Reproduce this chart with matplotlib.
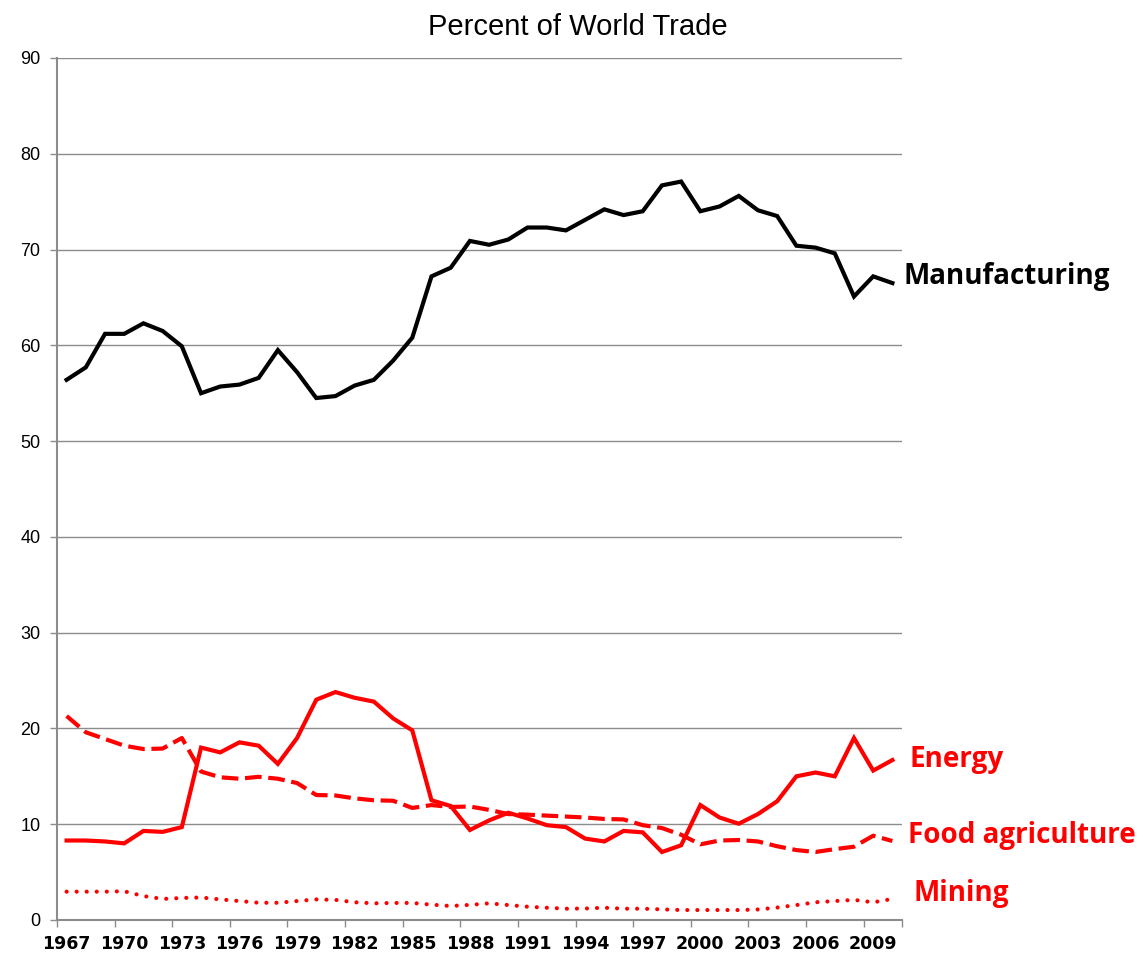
import matplotlib
matplotlib.use("Agg")
import matplotlib.pyplot as plt
import numpy as np

years = list(range(1967, 2011))

manufacturing = [56.4, 57.7, 61.2, 61.2, 62.3, 61.5, 59.9, 55.0, 55.7, 55.9,
                 56.6, 59.5, 57.2, 54.5, 54.7, 55.8, 56.4, 58.4, 60.8, 67.2,
                 68.1, 70.9, 70.5, 71.05, 72.3, 72.3, 72.0, 73.1, 74.2, 73.6,
                 74.0, 76.7, 77.1, 74.0, 74.5, 75.6, 74.1, 73.5, 70.4, 70.2,
                 69.6, 65.1, 67.2, 66.5]

energy = [8.3, 8.3, 8.2, 8.0, 9.3, 9.2, 9.7, 18.0, 17.5, 18.55,
          18.2, 16.3, 19.0, 23.0, 23.8, 23.2, 22.8, 21.05, 19.8, 12.5,
          11.9, 9.4, 10.4, 11.2, 10.6, 9.9, 9.7, 8.5, 8.2, 9.3,
          9.15, 7.1, 7.8, 12.0, 10.7, 10.05, 11.06, 12.4, 15.0, 15.4,
          15.0, 19.0, 15.6, 16.7]

food_agriculture = [21.3, 19.6, 18.9, 18.2, 17.85, 17.9, 19.0, 15.5, 14.9, 14.75,
                    14.95, 14.75, 14.3, 13.05, 13.0, 12.7, 12.5, 12.45, 11.7, 12.0,
                    11.8, 11.85, 11.5, 11.06, 11.0, 10.9, 10.8, 10.7, 10.55, 10.5,
                    9.9, 9.6, 8.9, 7.9, 8.3, 8.35, 8.2, 7.7, 7.3, 7.1,
                    7.4, 7.65, 8.8, 8.25]

mining = [2.96, 2.96, 2.96, 3.0, 2.5, 2.2, 2.3, 2.35, 2.15, 1.98,
          1.8, 1.8, 1.98, 2.15, 2.1, 1.85, 1.74, 1.78, 1.78, 1.6,
          1.46, 1.58, 1.74, 1.56, 1.39, 1.28, 1.18, 1.2, 1.28, 1.18,
          1.18, 1.11, 1.04, 1.04, 1.04, 1.04, 1.1, 1.3, 1.56, 1.85,
          1.98, 2.1, 1.85, 2.2]

series_labels = ["Manufacturing", "Energy", "Food agriculture", "Mining"]
tick_years = list(range(1967, 2011, 3))
y_ticks = list(range(0, 91, 10))
title = "Percent of World Trade"

W, H = 1144, 957
fig = plt.figure(figsize=(W / 100, H / 100), dpi=100)
ax = fig.add_axes([57 / W, 1 - 920 / H, (902 - 57) / W, (920 - 58) / H])

lw = 3.0
ax.plot(years, manufacturing, color="black", lw=lw, solid_joinstyle="miter")
ax.plot(years, energy, color="#ff0000", lw=lw, solid_joinstyle="miter")
ax.plot(years, food_agriculture, color="#ff0000", lw=lw, linestyle=(0, (4.0, 1.6)),
        dash_capstyle="butt")
ax.plot(years, mining, color="#ff0000", lw=lw, linestyle=(0, (0.01, 2.4)),
        dash_capstyle="round")

ax.set_xlim(1966.5, 2010.5)
ax.set_ylim(0, 90)

# gridlines
ax.set_yticks(y_ticks)
ax.yaxis.grid(True, color="#8c8c8c", lw=1.0)
ax.set_axisbelow(True)
ax.set_yticklabels([str(v) for v in y_ticks], fontsize=13, family="Liberation Sans")
ax.tick_params(axis="y", length=5, width=1, color="#8c8c8c", pad=7)

# x ticks: marks between categories, labels under the categories
ax.set_xticks([y - 0.5 for y in tick_years] + [2010.5])
ax.set_xticklabels([])
ax.tick_params(axis="x", which="major", length=5, width=1, color="#8c8c8c")
ax.set_xticks(tick_years, minor=True)
ax.set_xticklabels([str(y) for y in tick_years], minor=True, fontsize=12.5,
                   fontweight="bold", family="Liberation Sans Narrow")
ax.tick_params(axis="x", which="minor", length=0, pad=11)

for s in ["top", "right"]:
    ax.spines[s].set_visible(False)
for s in ["left", "bottom"]:
    ax.spines[s].set_color("#8c8c8c")
    ax.spines[s].set_linewidth(1.5)

fig.text(578 / W, 1 - 27 / H, title, ha="center", va="center", fontsize=21,
         family="Liberation Sans")

lab_kw = dict(fontsize=20, fontweight="bold", family="Open Sans", va="center", ha="left")
fig.text(904 / W, 1 - 277 / H, series_labels[0], color="black", **lab_kw)
fig.text(910 / W, 1 - 760 / H, series_labels[1], color="#ff0000", **lab_kw)
fig.text(908 / W, 1 - 835 / H, series_labels[2], color="#ff0000", **lab_kw)
fig.text(914 / W, 1 - 893 / H, series_labels[3], color="#ff0000", **lab_kw)

fig.savefig("out.png", dpi=100)
